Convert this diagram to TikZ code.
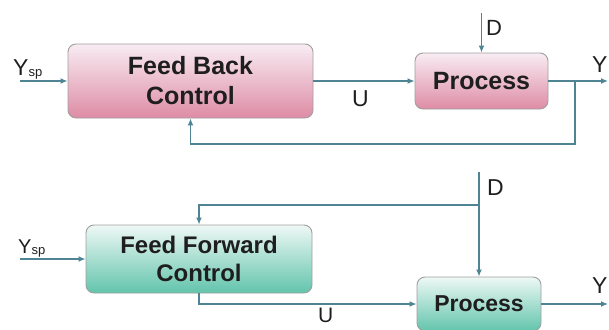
\documentclass[tikz,border=0pt]{standalone}
\usepackage{fontspec}
\setmainfont{Liberation Sans}
\usetikzlibrary{positioning, calc, arrows.meta}

\definecolor{wire}{HTML}{4F8494}
\definecolor{pinktop}{HTML}{F8ECF2}
\definecolor{pinkbot}{HTML}{DE8CA6}
\definecolor{greentop}{HTML}{EEF8F5}
\definecolor{greenbot}{HTML}{62C4AC}
\definecolor{ink}{HTML}{1E1E1E}

\newcommand{\ysub}[1]{\raisebox{-1.5pt}{\fontsize{13}{13}\selectfont #1}}

\tikzset{
    block/.style={draw=gray!75, line width=0.9pt, rounded corners=8pt, align=center, text=ink, inner sep=0pt},
    fbblock/.style={block, top color=pinktop, bottom color=pinkbot},
    ffblock/.style={block, top color=greentop, bottom color=greenbot},
    lbl/.style={text=ink, inner sep=0pt, anchor=base west},
    wireline/.style={draw=wire, line width=1.5pt}
}

\begin{document}
\begin{tikzpicture}[x=1pt, y=-1pt, >={Latex[length=7pt,width=6pt]}]

\useasboundingbox (0,0) rectangle (609,329);

% feed back loop
\node[fbblock, minimum width=245pt, minimum height=74pt, font=\fontsize{25}{30}\selectfont\bfseries] (fb-ctrl) at (190.5,81) {Feed Back\\Control};
\node[fbblock, minimum width=133pt, minimum height=56pt, font=\fontsize{25}{30}\selectfont\bfseries] (fb-proc) at (481.5,81) {Process};

\coordinate (fb-in) at (20,81);
\coordinate (fb-d) at (481.5,13);
\coordinate (fb-split) at (575,81);
\coordinate (fb-out) at (608,81);

\node[lbl, font=\fontsize{23}{23}\selectfont] (fb-ysp) at (13,75) {Y\ysub{sp}};
\node[lbl, font=\fontsize{23}{23}\selectfont] (fb-u) at (352,106) {U};
\node[lbl, font=\fontsize{22}{22}\selectfont] (fb-dl) at (486,36) {D};
\node[lbl, font=\fontsize{23}{23}\selectfont] (fb-y) at (592,72) {Y};

\draw[wireline, ->] (fb-in) -- (fb-ctrl.west);
\draw[wireline, ->] (fb-ctrl.east) -- (fb-proc.west);
\draw[wireline, ->] (fb-d) -- (fb-proc.north);
\draw[wireline, ->] (fb-proc.east) -- (fb-out);
\draw[wireline, ->] (fb-split) -- ++(0,63) -| (fb-ctrl.south);

% feed forward
\node[ffblock, minimum width=226pt, minimum height=68pt, font=\fontsize{24}{28}\selectfont\bfseries] (ff-ctrl) at (199,259) {Feed Forward\\Control};
\node[ffblock, minimum width=124pt, minimum height=54pt, font=\fontsize{23}{28}\selectfont\bfseries] (ff-proc) at (479,304) {Process};

\coordinate (ff-in) at (20,259);
\coordinate (ff-d) at (479,172);
\coordinate (ff-split) at (479,205);
\coordinate (ff-out) at (608,304);

\node[lbl, font=\fontsize{20}{20}\selectfont] (ff-ysp) at (18,253) {Y\ysub{sp}};
\node[lbl, font=\fontsize{21}{21}\selectfont] (ff-u) at (318,322) {U};
\node[lbl, font=\fontsize{23}{23}\selectfont] (ff-dl) at (487,195) {D};
\node[lbl, font=\fontsize{23}{23}\selectfont] (ff-y) at (592,293) {Y};

\draw[wireline, ->] (ff-in) -- (ff-ctrl.west);
\draw[wireline, ->] (ff-d) -- (ff-proc.north);
\draw[wireline, ->] (ff-split) -| (ff-ctrl.north);
\draw[wireline, ->] (ff-ctrl.south) |- (ff-proc.west);
\draw[wireline, ->] (ff-proc.east) -- (ff-out);

\end{tikzpicture}
\end{document}
